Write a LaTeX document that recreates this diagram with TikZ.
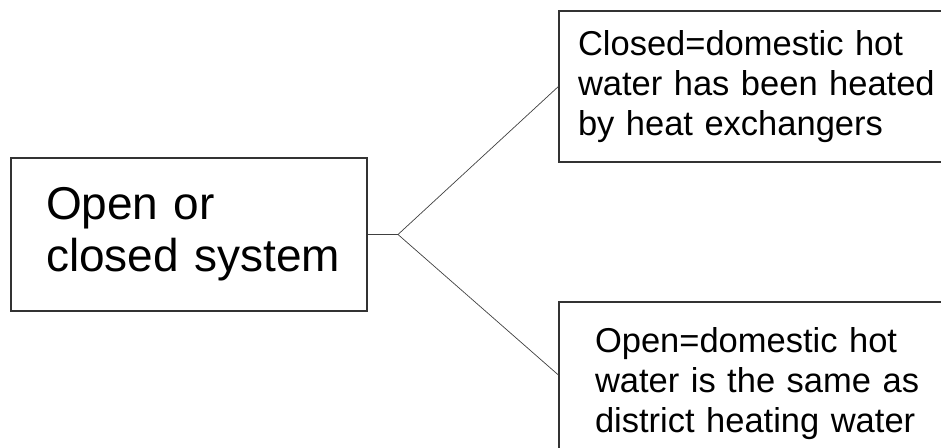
\documentclass[tikz,border=0pt]{standalone}
\usepackage{fontspec}
\setmainfont{Liberation Sans}
\usepackage{tikz}

\tikzset{
	sysbox/.style={draw=black!80, line width=1.2pt, shape=rectangle, align=left},
	wire/.style={draw=black!75, line width=0.7pt}
}

\begin{document}
\begin{tikzpicture}[x=1pt, y=-1pt]
	% Frame and clip:
	\useasboundingbox (0, 0) rectangle (941, 447);
	\clip (0, 0) rectangle (941, 447);
	% Boxes:
	\node[sysbox, inner xsep=30pt, text width=296pt, minimum height=153pt, font=\fontsize{46}{52}\selectfont](sys) at (189, 234.5){\mbox{\hspace*{5pt}Open or}\\\mbox{\hspace*{5pt}closed system}};
	\node[sysbox, inner xsep=19pt, text width=380pt, minimum height=151pt, font=\fontsize{34.5}{40}\selectfont](closed) at (768, 86.5){Closed=domestic hot\\water has been heated\\by heat exchangers};
	\node[sysbox, inner xsep=36pt, text width=346pt, minimum height=163pt, font=\fontsize{34.5}{40}\selectfont](open) at (768, 383.5){Open=domestic hot\\water is the same as\\district heating water};
	% Wires:
	\coordinate (fork) at (398, 234.5);
	\draw[wire] (sys.east) -- (fork);
	\draw[wire] (fork) -- (closed.west);
	\draw[wire] (fork) -- ([yshift=8.5pt]open.west);
\end{tikzpicture}
\end{document}
